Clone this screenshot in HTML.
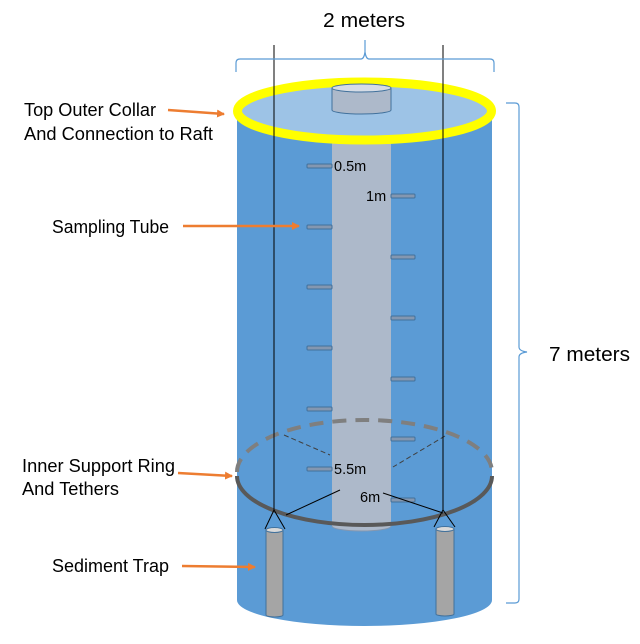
<!DOCTYPE html>
<html><head><meta charset="utf-8"><style>
html,body{margin:0;padding:0;background:#fff;}
svg{display:block;font-family:"Liberation Sans","DejaVu Sans",sans-serif;}
</style></head><body>
<svg width="640" height="644" viewBox="0 0 640 644" xmlns="http://www.w3.org/2000/svg">
<defs>
<marker id="ar" markerWidth="8" markerHeight="8" refX="7" refY="4" orient="auto" markerUnits="userSpaceOnUse"><path d="M0,0 L8,4 L0,8 z" fill="#ed7d31"/></marker>
</defs>
<!-- cylinder body -->
<path d="M237,111 L237,600 A127.5,26 0 0 0 492,600 L492,111 Z" fill="#5b9bd5"/>
<!-- sampling tube -->
<path d="M332,100 L332,526 A29.5,5 0 0 0 391,526 L391,100 Z" fill="#adb9ca"/>
<path d="M332,526 A29.5,5 0 0 0 391,526" fill="none" stroke="#8497b0" stroke-width="1"/>
<!-- top ellipse -->
<ellipse cx="364.5" cy="111" rx="127" ry="29" fill="#9dc3e6" stroke="#ffff00" stroke-width="9"/>
<!-- small top cylinder -->
<path d="M332,88 L332,110 A29.5,4 0 0 0 391,110 L391,88 Z" fill="#adb9ca" stroke="#41719c" stroke-width="1"/>
<ellipse cx="361.5" cy="88" rx="29.5" ry="4" fill="#d6dce5" stroke="#41719c" stroke-width="1"/>
<!-- ticks -->
<g fill="#8497b0" stroke="#41719c" stroke-width="1">
<rect x="307" y="164" width="25" height="4" rx="1"/>
<rect x="307" y="225" width="25" height="4" rx="1"/>
<rect x="307" y="285" width="25" height="4" rx="1"/>
<rect x="307" y="346" width="25" height="4" rx="1"/>
<rect x="307" y="407" width="25" height="4" rx="1"/>
<rect x="307" y="467" width="25" height="4" rx="1"/>
<rect x="391" y="194" width="24" height="4" rx="1"/>
<rect x="391" y="255" width="24" height="4" rx="1"/>
<rect x="391" y="316" width="24" height="4" rx="1"/>
<rect x="391" y="377" width="24" height="4" rx="1"/>
<rect x="391" y="437" width="24" height="4" rx="1"/>
<rect x="391" y="498" width="24" height="4" rx="1"/>
</g>
<g font-size="14.5" fill="#000">
<text x="334" y="171">0.5m</text>
<text x="366" y="201">1m</text>
<text x="334" y="474">5.5m</text>
<text x="360" y="502">6m</text>
</g>
<!-- ring back dashed -->
<path d="M237,472 A127.5,52 0 0 1 492,472" fill="none" stroke="#7f7f7f" stroke-width="4" stroke-dasharray="14,9"/>
<!-- ring front -->
<path d="M237,476 A127.5,49 0 0 0 492,476" fill="none" stroke="#595959" stroke-width="4"/>
<!-- tethers -->
<g stroke="#404040" stroke-width="1" stroke-dasharray="5,3">
<line x1="284" y1="435" x2="330" y2="455"/>
<line x1="445" y1="436" x2="393" y2="467"/>
</g>
<g stroke="#000" stroke-width="1">
<line x1="286" y1="515" x2="340" y2="490"/>
<line x1="383" y1="493" x2="443" y2="513"/>
<line x1="274" y1="45" x2="274" y2="510"/>
<line x1="443" y1="45" x2="443" y2="510"/>
<path d="M265,529 L274,510 L285,529" fill="none"/>
<path d="M434,527 L443,510 L455,527" fill="none"/>
</g>
<!-- traps -->
<path d="M266,530 L266,615 A8.5,2 0 0 0 283,615 L283,530 Z" fill="#a5a5a5" stroke="#41719c" stroke-width="1"/>
<ellipse cx="274.5" cy="530" rx="8.5" ry="2.5" fill="#d9d9d9" stroke="#41719c" stroke-width="1"/>
<path d="M436,529 L436,614 A9,2 0 0 0 454,614 L454,529 Z" fill="#a5a5a5" stroke="#41719c" stroke-width="1"/>
<ellipse cx="445" cy="529" rx="9" ry="2.5" fill="#d9d9d9" stroke="#41719c" stroke-width="1"/>
<!-- braces -->
<path d="M236,72 L236,63 Q236,59 240,59 L361,59 Q364,59 365,52 L365,40 M365,52 Q366,59 369,59 L490,59 Q494,59 494,63 L494,72" fill="none" stroke="#5b9bd5" stroke-width="1.2"/>
<path d="M506,103 L515,103 Q519,103 519,107 L519,347 Q519,351 527,352 Q519,353 519,357 L519,599 Q519,603 515,603 L506,603" fill="none" stroke="#5b9bd5" stroke-width="1.2"/>
<!-- labels -->
<g font-size="18" fill="#000">
<text x="323" y="27" font-size="20" textLength="82" lengthAdjust="spacingAndGlyphs">2 meters</text>
<text x="549" y="361" font-size="20" textLength="81" lengthAdjust="spacingAndGlyphs">7 meters</text>
<text x="24" y="116" textLength="132" lengthAdjust="spacingAndGlyphs">Top Outer Collar</text>
<text x="24" y="140" textLength="189" lengthAdjust="spacingAndGlyphs">And Connection to Raft</text>
<text x="52" y="233" textLength="117" lengthAdjust="spacingAndGlyphs">Sampling Tube</text>
<text x="22" y="472" textLength="153" lengthAdjust="spacingAndGlyphs">Inner Support Ring</text>
<text x="22" y="495" textLength="97" lengthAdjust="spacingAndGlyphs">And Tethers</text>
<text x="52" y="572" textLength="117" lengthAdjust="spacingAndGlyphs">Sediment Trap</text>
</g>
<g stroke="#ed7d31" stroke-width="2.5" marker-end="url(#ar)">
<line x1="168" y1="110" x2="224" y2="114"/>
<line x1="183" y1="226" x2="299" y2="226"/>
<line x1="178" y1="473" x2="232" y2="476"/>
<line x1="182" y1="566" x2="255" y2="567"/>
</g>
</svg>
</body></html>
